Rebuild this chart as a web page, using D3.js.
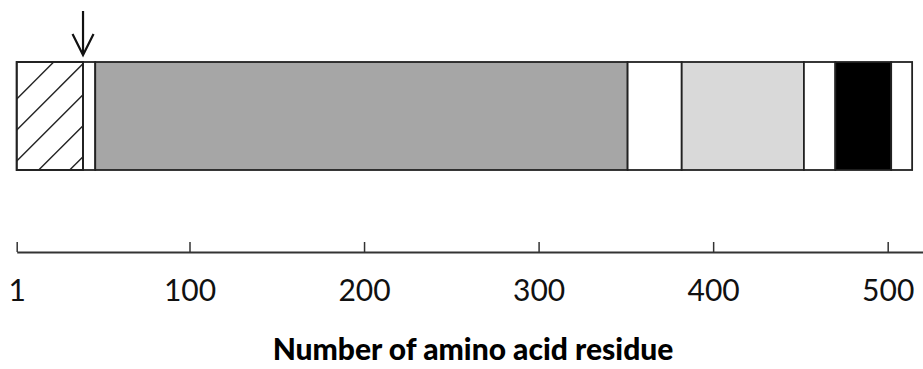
<!DOCTYPE html>
<html>
<head>
<meta charset="utf-8">
<script src="https://cdn.jsdelivr.net/npm/d3@7"></script>
<style>
  html, body { margin: 0; padding: 0; background: #fff; }
  svg { display: block; }
</style>
</head>
<body>
<svg id="chart" width="923" height="369"></svg>
<script>
// Domain map of the protein: residue ranges and their fills
const segmentStarts = [1, 39, 46, 351, 382, 452, 470, 502];
const segmentEnds   = [39, 46, 351, 382, 452, 470, 502, 514];
const segmentFills  = ["hatch", "#ffffff", "#a6a6a6", "#ffffff", "#d9d9d9", "#ffffff", "#000000", "#ffffff"];
const tickValues    = [1, 100, 200, 300, 400, 500];
const arrowResidue  = 39;
const axisTitle     = "Number of amino acid residue";

const svg = d3.select("#chart");

const x = d3.scaleLinear().domain([1, 520]).range([16.7, 922.6]);

const barTop = 62, barBottom = 170;
const axisY = 252;

const segments = segmentStarts.map((s, i) => ({ start: s, end: segmentEnds[i], fill: segmentFills[i] }));

// Clip for the hatched signal region
const defs = svg.append("defs");
const hatchSeg = segments.find(d => d.fill === "hatch");
defs.append("clipPath").attr("id", "hatch-clip")
  .append("rect")
  .attr("x", x(hatchSeg.start)).attr("y", barTop)
  .attr("width", x(hatchSeg.end) - x(hatchSeg.start))
  .attr("height", barBottom - barTop);

const bar = svg.append("g");

bar.selectAll("rect.seg")
  .data(segments)
  .join("rect")
  .attr("class", "seg")
  .attr("x", d => x(d.start))
  .attr("y", barTop)
  .attr("width", d => x(d.end) - x(d.start))
  .attr("height", barBottom - barTop)
  .attr("fill", d => d.fill === "hatch" ? "#ffffff" : d.fill)
  .attr("stroke", "#222")
  .attr("stroke-width", 1.8);

// Diagonal hatch lines (x + y = c), spaced evenly through the region
const hx0 = x(hatchSeg.start), hx1 = x(hatchSeg.end);
const spacing = 31;
const cValues = d3.range(hx0 + barTop + 37, hx1 + barBottom, spacing);
bar.append("g")
  .attr("clip-path", "url(#hatch-clip)")
  .selectAll("line")
  .data(cValues)
  .join("line")
  .attr("x1", c => c - barBottom).attr("y1", barBottom)
  .attr("x2", c => c - barTop).attr("y2", barTop)
  .attr("stroke", "#222")
  .attr("stroke-width", 1.4);

// Redraw the hatched segment outline on top of its lines
bar.append("rect")
  .attr("x", hx0).attr("y", barTop)
  .attr("width", hx1 - hx0).attr("height", barBottom - barTop)
  .attr("fill", "none").attr("stroke", "#222").attr("stroke-width", 1.8);

// Cleavage-site arrow
const ax = x(arrowResidue);
const arrow = svg.append("g").attr("stroke", "#111").attr("stroke-width", 2.2).attr("fill", "none");
arrow.append("line").attr("x1", ax).attr("y1", 11).attr("x2", ax).attr("y2", 54);
arrow.append("path").attr("d", `M${ax - 10.5},${34} L${ax},${55} L${ax + 10.5},${34}`);

// Residue axis
const axis = d3.axisBottom(x)
  .tickValues(tickValues)
  .tickFormat(d3.format("d"))
  .tickSizeInner(-10)
  .tickSizeOuter(0)
  .tickPadding(28);

const gAxis = svg.append("g")
  .attr("transform", `translate(0,${axisY})`)
  .call(axis);

gAxis.select(".domain").attr("stroke", "#333").attr("stroke-width", 2);
gAxis.selectAll(".tick line").attr("stroke", "#333").attr("stroke-width", 1.5);
gAxis.selectAll(".tick text")
  .attr("fill", "#111")
  .style("font-family", "Lato, 'Open Sans', sans-serif")
  .style("font-size", "30px");

svg.append("text")
  .attr("x", 473)
  .attr("y", 360)
  .attr("text-anchor", "middle")
  .attr("fill", "#000")
  .style("font-family", "Lato, 'Open Sans', sans-serif")
  .style("font-weight", "900")
  .style("font-size", "30px")
  .text(axisTitle);
</script>
</body>
</html>
